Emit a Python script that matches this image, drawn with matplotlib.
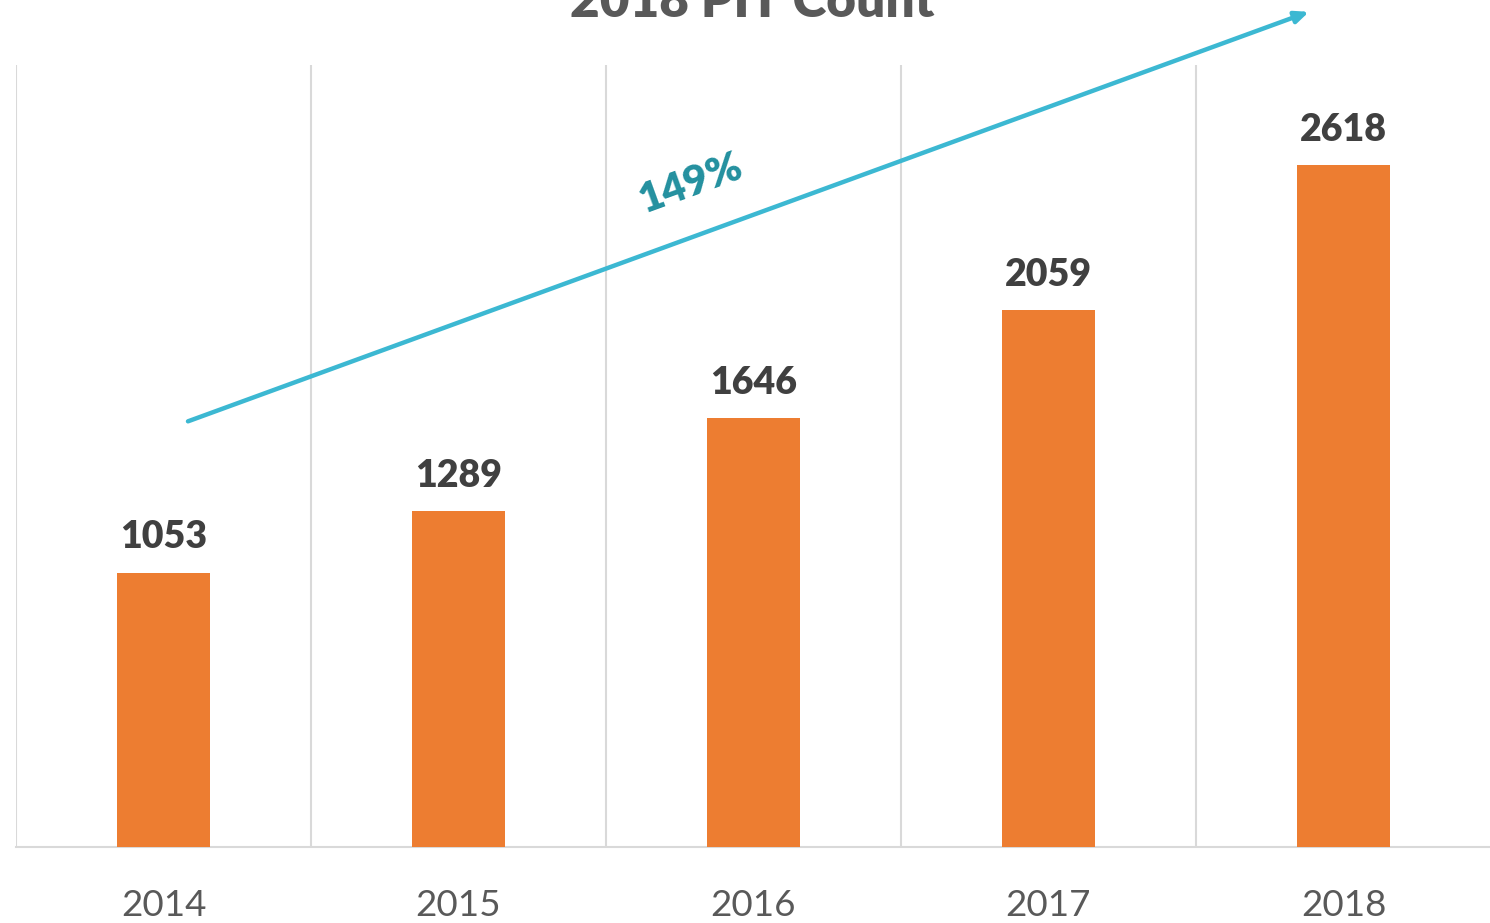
import matplotlib.pyplot as plt

years = ['2014', '2015', '2016', '2017', '2018']
counts = [1053, 1289, 1646, 2059, 2618]
growth_label = '149%'


def main():
    plt.rcParams['font.family'] = ['Lato', 'DejaVu Sans']

    fig = plt.figure(figsize=(14.9, 9.23), dpi=100)
    ax = fig.add_axes([16 / 1490, 76 / 923, 1475 / 1490, 782 / 923])

    x = range(len(years))
    bars = ax.bar(x, counts, width=0.315, color='#ED7D31', zorder=3)

    # value labels above bars
    for bar, val in zip(bars, counts):
        ax.annotate(str(val), (bar.get_x() + bar.get_width() / 2, val),
                    xytext=(0, 13), textcoords='offset points',
                    ha='center', va='bottom', fontsize=27, fontweight='heavy',
                    color='#404040')

    ax.set_xlim(-0.5, len(years) - 0.5)
    ax.set_ylim(0, 3000)
    ax.set_xticks(list(x))
    ax.set_xticklabels(years, fontsize=26.5, color='#595959')
    ax.tick_params(axis='x', length=0, pad=30)
    ax.set_yticks([])

    # vertical gridlines between categories
    ax.set_xticks([i - 0.5 for i in range(len(years))], minor=True)
    ax.tick_params(axis='x', which='minor', length=0)
    ax.grid(axis='x', which='minor', color='#D9D9D9', linewidth=1.5, zorder=0)

    for side in ['top', 'right', 'left']:
        ax.spines[side].set_visible(False)
    ax.spines['bottom'].set_color('#D9D9D9')
    ax.spines['bottom'].set_linewidth(1.5)

    # growth arrow
    ax.annotate('', xy=(3.883, 3204), xytext=(0.083, 1633),
                arrowprops=dict(arrowstyle='-|>,head_length=0.8,head_width=0.35',
                                color='#3CB8D2', lw=3.2, shrinkA=0, shrinkB=0),
                annotation_clip=False, zorder=4)
    ax.text(1.79, 2545, growth_label, rotation=20, ha='center', va='center',
            fontsize=30, fontweight='heavy', color='#23909F')

    fig.text(752 / 1490, 1 - 17 / 923, '2018 PIT Count', ha='center', va='baseline',
             fontsize=37, fontweight='heavy', color='#595959')

    fig.savefig('out.png', dpi=100)


if __name__ == '__main__':
    main()
